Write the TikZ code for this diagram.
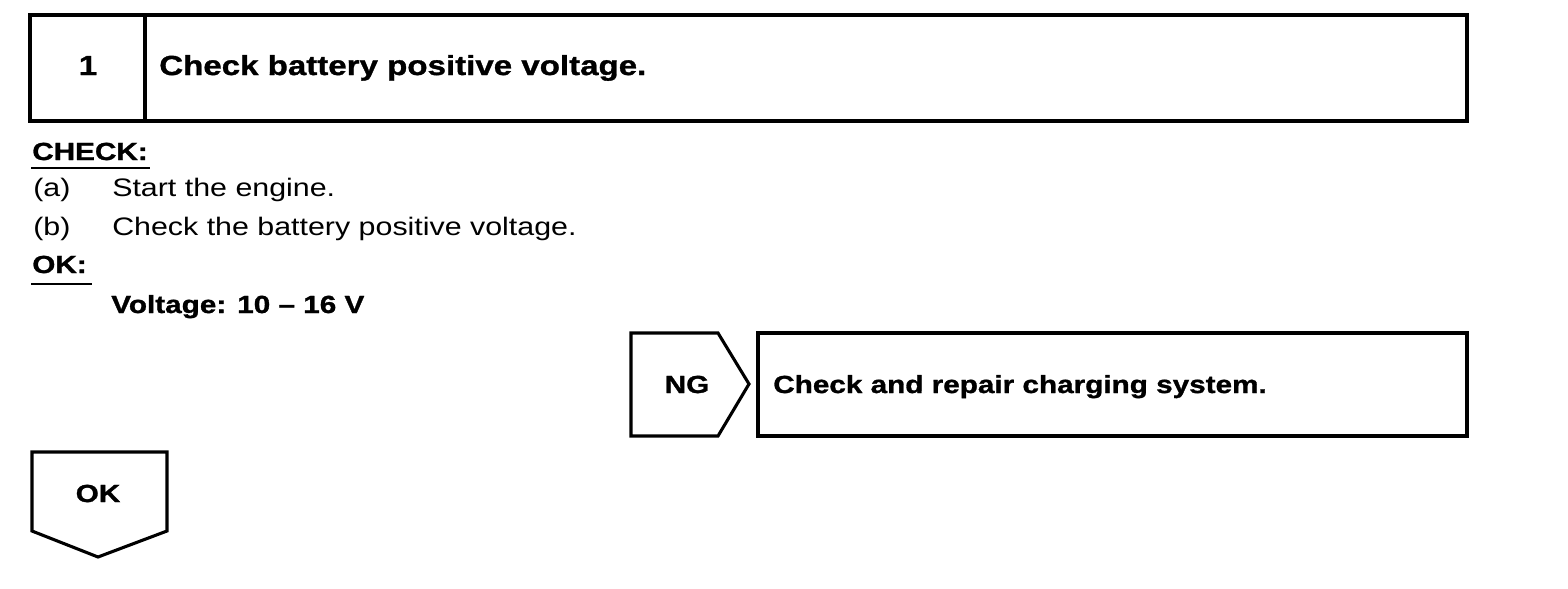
\documentclass[tikz,border=0pt]{standalone}
\usepackage{fontspec}
\setmainfont[FakeStretch=1.2,BoldFeatures={FakeBold=1.2}]{Liberation Sans}
\usepackage{xcolor}
\usetikzlibrary{positioning}
\definecolor{ink}{HTML}{000000}
\tikzset{
  frame/.style={draw=ink,line width=2.2pt,line join=miter},
  txt/.style={inner sep=0pt,anchor=base west,text=ink},
  bold/.style={txt,font=\bfseries\fontsize{17.6}{20}\selectfont}
}

\begin{document}
\begin{tikzpicture}[x=0.025cm,y=-0.025cm,every node/.style={font=\fontsize{18}{20}\selectfont}]
  \useasboundingbox (0,0) rectangle (1568,588);
  % step header
  \draw[frame] (30,15) rectangle (1467,121);
  \draw[frame] (145,15) -- (145,121);
  \node[bold,anchor=base,font=\bfseries\fontsize{19.6}{22}\selectfont] (stepnum) at (88,75) {1};
  \node[bold,font=\bfseries\fontsize{19.6}{22}\selectfont] (steptitle) at (159,75) {Check battery positive voltage.};
  % check
  \node[bold] (checkhd) at (32,160) {CHECK:};
  \draw[ink,line width=1.3pt] (31,168) -- (150,168);
  \node[txt] (itema) at (33,196) {(a)};
  \node[txt] (texta) at (112,196) {Start the engine.};
  \node[txt] (itemb) at (33,235) {(b)};
  \node[txt] (textb) at (112,235) {Check the battery positive voltage.};
  \node[bold] (okhd) at (32,273) {OK:};
  \draw[ink,line width=1.3pt] (31,284) -- (92,284);
  \node[bold] (okval) at (111,313) {Voltage: 10 -- 16 V};
  % NG branch
  \draw[frame] (631,333) -- (718,333) -- (749,384) -- (718,436) -- (631,436) -- cycle;
  \node[bold,anchor=base] (nglbl) at (687,393) {NG};
  \draw[frame] (758,333) rectangle (1467,436);
  \node[bold] (ngtext) at (773,393) {Check and repair charging system.};
  % OK branch
  \draw[frame] (32,452) -- (167,452) -- (167,531) -- (98,557) -- (32,531) -- cycle;
  \node[bold,anchor=base] (oklbl) at (98,502) {OK};
\end{tikzpicture}
\end{document}
